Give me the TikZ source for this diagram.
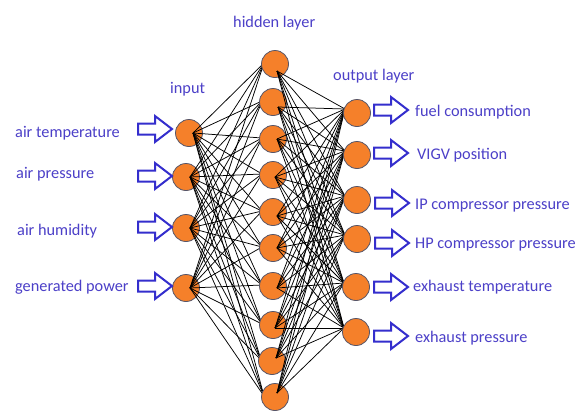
\documentclass[tikz,border=0pt]{standalone}
\usepackage{fontspec}
\setmainfont{Carlito}
\usetikzlibrary{calc}

% drawing order: input neurons, first synapses, hidden neurons, second synapses, output neurons
\pgfdeclarelayer{inputs}
\pgfdeclarelayer{firstedges}
\pgfdeclarelayer{hiddens}
\pgfdeclarelayer{secondedges}
\pgfsetlayers{inputs,firstedges,hiddens,secondedges,main}

\definecolor{neuronfill}{RGB}{245,128,42}
\definecolor{neuronedge}{RGB}{85,85,105}
\definecolor{labelblue}{RGB}{76,64,200}
\definecolor{arrowblue}{RGB}{52,46,205}

\tikzset{
  neuron/.style={circle, fill=neuronfill, draw=neuronedge, line width=0.8pt,
    minimum size=27pt, inner sep=0pt},
  synapse/.style={black, line width=0.75pt},
  lbl/.style={anchor=base west, inner sep=0pt, text=labelblue,
    font=\fontsize{16.3}{19}\selectfont},
  blockstroke/.style={draw=arrowblue, fill=white, line width=2pt, line join=miter},
  pics/blockarrow/.style={code={
    \path[blockstroke] (0,-5.5) -- (17,-5.5) -- (17,-13) -- (34,0)
      -- (17,13) -- (17,5.5) -- (0,5.5) -- cycle;}},
}

\begin{document}
\begin{tikzpicture}[x=1pt,y=-1pt]
\useasboundingbox (0,0) rectangle (587,413);

\begin{pgfonlayer}{inputs}
  \fill[white] (0,0) rectangle (587,413);
  \foreach \n/\x/\y in {1/189/133, 2/186/177, 3/186/228, 4/186/288} {
    \node[neuron] (in\n) at (\x,\y) {};
    \coordinate (ino\n) at ($(in\n)+(4,0)$);
  }
\end{pgfonlayer}

\begin{pgfonlayer}{hiddens}
  \foreach \n/\x/\y/\dx/\dy in {1/275/64/2/7, 2/273/102/5/5, 3/273/139/4/0,
      4/273/175/2/2, 5/273/212/4/4, 6/273/248/4/0, 7/273/286/4/2,
      8/273/325/2/3, 9/272/361/4/-3, 10/275/397/2/-4} {
    \node[neuron] (h\n) at (\x,\y) {};
    \coordinate (hi\n) at ($(h\n)+(-11,-1)$);
    \coordinate (ho\n) at ($(h\n)+(\dx,\dy)$);
  }
\end{pgfonlayer}

\foreach \n/\x/\y in {1/357/113, 2/357/155, 3/357/200, 4/357/239,
    5/356/287, 6/356/332} {
  \node[neuron] (out\n) at (\x,\y) {};
  \coordinate (oi\n) at ($(out\n)+(-12,-4)$);
}

% fully connected synapses
\begin{pgfonlayer}{firstedges}
  \foreach \i in {1,...,4}
    \foreach \j in {1,...,10}
      \draw[synapse] (ino\i) -- (hi\j);
\end{pgfonlayer}
\begin{pgfonlayer}{secondedges}
  \foreach \j in {1,...,10}
    \foreach \k in {1,...,6}
      \draw[synapse] (ho\j) -- (oi\k);
\end{pgfonlayer}

% layer titles
\node[lbl] (tin)  at (170,93) {input};
\node[lbl] (thid) at (233,27) {hidden layer};
\node[lbl] (tout) at (333,80) {output layer};

% input quantities with their arrows
\foreach \n/\x/\y/\ay/\txt in {1/15/137/129/air temperature,
    2/16/178/176/air pressure, 3/17/235/227/air humidity,
    4/15/291/286/generated power} {
  \node[lbl] (lin\n) at (\x,\y) {\txt};
  \pic (ain\n) at (138,\ay) {blockarrow};
}

% output quantities with their arrows
\foreach \n/\x/\y/\ax/\ay/\txt in {1/415/116/374/110/fuel consumption,
    2/417/159/374/153/VIGV position, 3/415/209/375/203/IP compressor pressure,
    4/415/248/375/243/HP compressor pressure, 5/413/291/374/287/exhaust temperature,
    6/415/342/374/336/exhaust pressure} {
  \node[lbl] (lout\n) at (\x,\y) {\txt};
  \pic (aout\n) at (\ax,\ay) {blockarrow};
}
\end{tikzpicture}
\end{document}
